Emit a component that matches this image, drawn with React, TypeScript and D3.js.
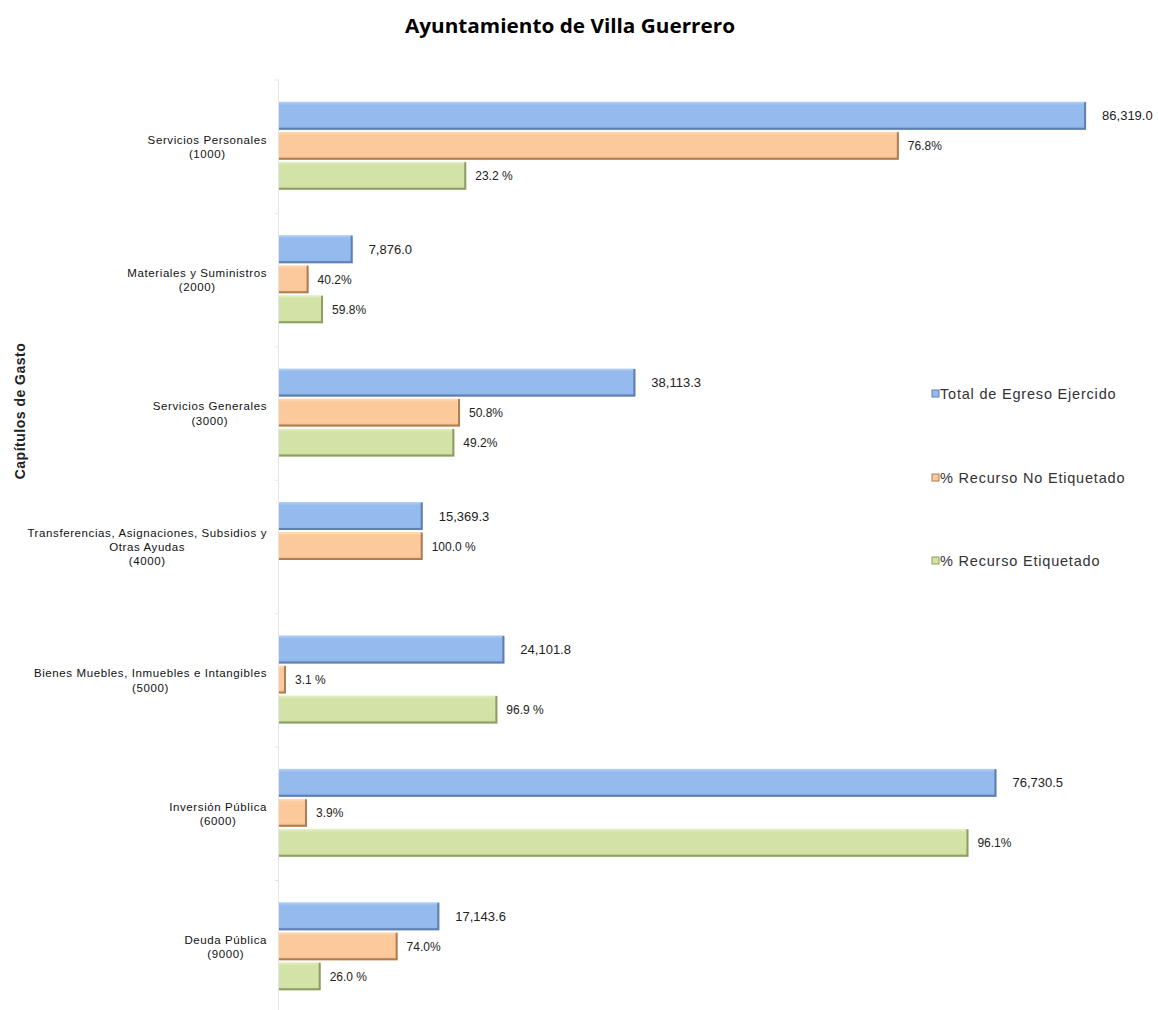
import React, { useEffect, useRef } from "react";
import * as d3 from "d3";

const categories = [
  ["Servicios Personales", "(1000)"],
  ["Materiales y Suministros", "(2000)"],
  ["Servicios Generales", "(3000)"],
  ["Transferencias, Asignaciones, Subsidios y", "Otras Ayudas", "(4000)"],
  ["Bienes Muebles, Inmuebles e Intangibles", "(5000)"],
  ["Inversión Pública", "(6000)"],
  ["Deuda Pública", "(9000)"],
];
const totalEgreso = [86319.0, 7876.0, 38113.3, 15369.3, 24101.8, 76730.5, 17143.6];
const pctNoEtiquetado = [76.8, 40.2, 50.8, 100.0, 3.1, 3.9, 74.0];
const pctEtiquetado: (number | null)[] = [23.2, 59.8, 49.2, null, 96.9, 96.1, 26.0];
const labelsNoEtiquetado = ["76.8%", "40.2%", "50.8%", "100.0 %", "3.1 %", "3.9%", "74.0%"];
const labelsEtiquetado: (string | null)[] = ["23.2 %", "59.8%", "49.2%", null, "96.9 %", "96.1%", "26.0 %"];
const seriesNames = ["Total de Egreso Ejercido", "% Recurso No Etiquetado", "% Recurso Etiquetado"];
const xDomainMax = 100000;

const W = 1159;
const H = 1010;
const FONT = "'Liberation Sans', Arial, sans-serif";

export default function App() {
  const ref = useRef<SVGSVGElement>(null);
  useEffect(() => {
    const svg = d3.select(ref.current);
    svg.selectAll("*").remove();

    const colors = [
      { top: "#b5d0f5", mid: "#95bbee", bot: "#86aee4", edge: "#5f7fae" },
      { top: "#fde0c0", mid: "#fbc99a", bot: "#f2bc8b", edge: "#b07c55" },
      { top: "#e6f0c8", mid: "#d3e3a7", bot: "#c9da9b", edge: "#8d9e62" },
    ];
    const defs = svg.append("defs");
    colors.forEach((c, i) => {
      const g = defs.append("linearGradient").attr("id", `g${i}`).attr("x1", 0).attr("y1", 0).attr("x2", 0).attr("y2", 1);
      g.append("stop").attr("offset", "0%").attr("stop-color", c.top);
      g.append("stop").attr("offset", "12%").attr("stop-color", c.mid);
      g.append("stop").attr("offset", "85%").attr("stop-color", c.mid);
      g.append("stop").attr("offset", "100%").attr("stop-color", c.bot);
    });

    const x0 = 279;
    const x = d3.scaleLinear().domain([0, xDomainMax]).range([x0, x0 + 935]);
    const y = d3.scaleBand<number>().domain(d3.range(categories.length)).range([80, 1014]);
    const slot = 30;
    const barH = 28;

    // Title
    svg.append("text").attr("x", 570).attr("y", 33).attr("text-anchor", "middle")
      .attr("font-family", "'Open Sans', sans-serif").attr("font-weight", "bold").attr("font-size", 20)
      .attr("fill", "#000").attr("textLength", 330).attr("lengthAdjust", "spacingAndGlyphs")
      .text("Ayuntamiento de Villa Guerrero");

    // Y axis title
    svg.append("text").attr("transform", "translate(25,411) rotate(-90)").attr("text-anchor", "middle")
      .attr("font-family", FONT).attr("font-weight", "bold").attr("font-size", 14)
      .attr("letter-spacing", 0.5)
      .attr("fill", "#222").text("Capítulos de Gasto");

    // axis line
    svg.append("line").attr("x1", x0 - 0.5).attr("x2", x0 - 0.5).attr("y1", 80).attr("y2", H)
      .attr("stroke", "#e4e4e4").attr("stroke-width", 1);
    const bounds = d3.range(categories.length + 1).map((i) => 80 + i * y.step());
    svg.selectAll("line.tick").data(bounds).enter().append("line")
      .attr("x1", x0 - 4).attr("x2", x0).attr("y1", (d) => d).attr("y2", (d) => d)
      .attr("stroke", "#e4e4e4");

    // Category labels
    categories.forEach((lines, i) => {
      const c = y(i)! + y.bandwidth() / 2;
      const g = svg.append("g");
      const lh = 14.2;
      const startY = c - ((lines.length - 1) * lh) / 2 + 4;
      const texts = lines.map((l, j) =>
        g.append("text").attr("y", startY + j * lh).attr("text-anchor", "middle")
          .attr("font-family", FONT).attr("font-size", 11.5).attr("letter-spacing", 0.6)
          .attr("fill", "#111").text(l)
      );
      const maxW = d3.max(texts, (t) => (t.node() as SVGTextElement).getComputedTextLength()) || 0;
      const cx = 267 - maxW / 2;
      texts.forEach((t) => t.attr("x", cx));
    });

    const series = [
      totalEgreso.map((v, i) => ({ i, v, label: d3.format(",.1f")(v) })),
      pctNoEtiquetado.map((p, i) => ({ i, v: (totalEgreso[i] * p) / 100, label: labelsNoEtiquetado[i] })),
      pctEtiquetado.map((p, i) => ({ i, v: p == null ? null : (totalEgreso[i] * p) / 100, label: labelsEtiquetado[i] })),
    ];

    series.forEach((data, s) => {
      const g = svg.append("g");
      data.forEach((d) => {
        if (d.v == null) return;
        const c = y(d.i)! + y.bandwidth() / 2;
        const top = c - 45 + s * slot;
        const x1 = x(d.v);
        g.append("rect").attr("x", x0).attr("y", top).attr("width", x1 - x0).attr("height", barH)
          .attr("fill", `url(#g${s})`);
        g.append("path")
          .attr("d", `M${x0},${top + barH - 1}H${x1 - 1}V${top + 0.5}`)
          .attr("fill", "none").attr("stroke", colors[s].edge).attr("stroke-width", 2);
        g.append("text")
          .attr("x", x1 + (s === 0 ? 16 : 9)).attr("y", top + barH / 2 + 4.5)
          .attr("font-family", FONT)
          .attr("font-size", s === 0 ? 13 : 12).attr("fill", "#222").text(d.label as string);
      });
    });

    // Legend
    const legY = [394, 478, 561];
    seriesNames.forEach((n, s) => {
      svg.append("rect").attr("x", 932).attr("y", legY[s] - 4).attr("width", 7).attr("height", 7)
        .attr("fill", colors[s].mid).attr("stroke", colors[s].edge).attr("stroke-width", 1);
      svg.append("text").attr("x", 940).attr("y", legY[s] + 5)
        .attr("font-family", FONT).attr("font-size", 14.5).attr("letter-spacing", 0.8)
        .attr("fill", "#333").text(n);
    });
  }, []);
  return (
    <svg ref={ref} width={W} height={H} style={{ position: "absolute", left: 0, top: 0, background: "#fff" }} />
  );
}
